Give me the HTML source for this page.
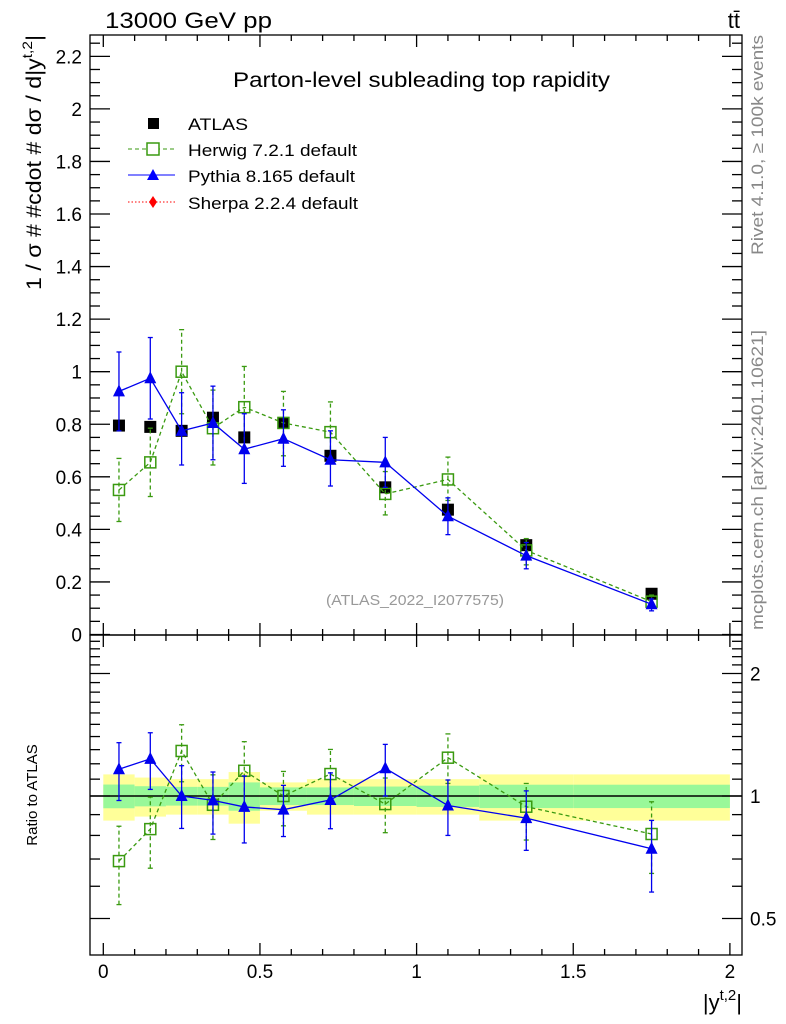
<!DOCTYPE html>
<html><head><meta charset="utf-8"><style>
html,body{margin:0;padding:0;background:#fff;}
svg{display:block;font-family:"Liberation Sans",sans-serif;}
</style></head><body>
<svg id="chart" width="786" height="1024" viewBox="0 0 786 1024" xmlns="http://www.w3.org/2000/svg">
<text x="105" y="28" font-size="22" textLength="167" lengthAdjust="spacingAndGlyphs">13000 GeV pp</text>
<text x="740" y="28" font-size="22" text-anchor="end">tt̄</text>
<text x="233" y="87" font-size="21" textLength="377" lengthAdjust="spacingAndGlyphs">Parton-level subleading top rapidity</text>
<text x="326" y="605" font-size="15" fill="#999" textLength="178" lengthAdjust="spacingAndGlyphs">(ATLAS_2022_I2077575)</text>
<text transform="translate(763,255) rotate(-90)" font-size="17" fill="#888" textLength="220" lengthAdjust="spacingAndGlyphs">Rivet 4.1.0, ≥ 100k events</text>
<text transform="translate(763,630) rotate(-90)" font-size="17" fill="#888" textLength="300" lengthAdjust="spacingAndGlyphs">mcplots.cern.ch [arXiv:2401.10621]</text>
<text transform="translate(41,290) rotate(-90)" font-size="21" textLength="255" lengthAdjust="spacingAndGlyphs">1 / σ # #cdot # dσ / d|y<tspan font-size="14" dy="-9">t,2</tspan><tspan dy="9">|</tspan></text>
<text transform="translate(37,795) rotate(-90)" font-size="15" text-anchor="middle">Ratio to ATLAS</text>
<text x="742" y="1010" font-size="22" text-anchor="end">|y<tspan font-size="15" dy="-10">t,2</tspan><tspan dy="10">|</tspan></text>
<g id="legend">
<g><rect x="148" y="118" width="11" height="11" fill="#000"/><text x="188" y="130" font-size="17" textLength="60" lengthAdjust="spacingAndGlyphs">ATLAS</text></g>
<g><line x1="128" y1="149" x2="175" y2="149" stroke="#3a9a10" stroke-dasharray="4,3"/><rect x="147" y="143" width="12" height="12" fill="#fff" stroke="#3a9a10" stroke-width="1.5"/><text x="188" y="156" font-size="17" textLength="169" lengthAdjust="spacingAndGlyphs">Herwig 7.2.1 default</text></g>
<g><line x1="128" y1="175" x2="175" y2="175" stroke="#00f"/><polygon points="153,169 147,180 159,180" fill="#00f"/><text x="188" y="182" font-size="17" textLength="167" lengthAdjust="spacingAndGlyphs">Pythia 8.165 default</text></g>
<g><line x1="128" y1="202" x2="175" y2="202" stroke="#f00" stroke-dasharray="1.5,2"/><polygon points="153,196 157,202 153,208 149,202" fill="#f00"/><text x="188" y="209" font-size="17" textLength="170" lengthAdjust="spacingAndGlyphs">Sherpa 2.2.4 default</text></g>
</g>
</svg>
<script>
const binEdges=[0,0.1,0.2,0.3,0.4,0.5,0.65,0.8,1.0,1.2,1.5,2.0];
const xCenters=[0.05,0.15,0.25,0.35,0.45,0.575,0.725,0.9,1.1,1.35,1.75];
const atlasVals=[0.795,0.79,0.775,0.825,0.75,0.805,0.68,0.56,0.475,0.34,0.155];
const atlasTotErr=[0.13,0.11,0.10,0.10,0.145,0.08,0.10,0.10,0.10,0.13,0.13];
const atlasStatErr=[0.067,0.057,0.053,0.053,0.08,0.05,0.05,0.055,0.06,0.066,0.066];
const herwigVals=[0.55,0.655,1.0,0.785,0.865,0.805,0.77,0.535,0.59,0.32,0.125];
const herwigLo=[0.43,0.525,0.84,0.645,0.71,0.68,0.65,0.455,0.51,0.265,0.10];
const herwigHi=[0.67,0.785,1.16,0.93,1.02,0.925,0.885,0.62,0.675,0.365,0.15];
const pythiaVals=[0.925,0.975,0.775,0.805,0.705,0.745,0.665,0.655,0.45,0.30,0.115];
const pythiaLo=[0.775,0.82,0.645,0.665,0.575,0.64,0.565,0.56,0.38,0.25,0.09];
const pythiaHi=[1.075,1.13,0.92,0.945,0.84,0.855,0.775,0.75,0.52,0.35,0.135];
const mainTicks=["0","0.2","0.4","0.6","0.8","1","1.2","1.4","1.6","1.8","2","2.2"];
const ratioTicks=["0.5","1","2"];
const xTicks=["0","0.5","1","1.5","2"];

const NS="http://www.w3.org/2000/svg";
const svg=document.getElementById('chart');
const L=90,R=742,T1=35,B1=635,B2=955;
const X=v=>103.3+v*313.3;
const Y=v=>634.5-v*262.8;
const YR=v=>796-Math.log(v)*176.7;
function mk(tag,a,parent){const e=document.createElementNS(NS,tag);for(const k in a)e.setAttribute(k,a[k]);(parent||svg).appendChild(e);return e;}

const band=mk('g',{});


for(let i=0;i<xCenters.length;i++){
  const x1=X(binEdges[i]),x2=X(binEdges[i+1]);
  const y=mk('rect',{x:x1,y:YR(1+atlasTotErr[i]),width:x2-x1,height:YR(1-atlasTotErr[i])-YR(1+atlasTotErr[i]),fill:'#ffff99'},band);
  
  
  const g=mk('rect',{x:x1,y:YR(1+atlasStatErr[i]),width:x2-x1,height:YR(1-atlasStatErr[i])-YR(1+atlasStatErr[i]),fill:'#99f899'},band);
  
  
}
const unity=mk('line',{x1:L,x2:R,y1:YR(1),y2:YR(1),stroke:'#000','stroke-width':1.5});



const axes=mk('g',{stroke:'#000','stroke-width':1.3});


mk('rect',{x:L,y:T1,width:R-L,height:B1-T1,fill:'none'},axes);
mk('rect',{x:L,y:B1,width:R-L,height:B2-B1,fill:'none'},axes);
for(let v=0;v<=2.001;v+=0.1){
  const maj=Math.abs(v*2-Math.round(v*2))<1e-6, len=maj?12:6, x=X(v);
  for(const [top,bot] of [[T1,B1],[B1,B2]]){
    mk('line',{x1:x,x2:x,y1:top,y2:top+len},axes);
    mk('line',{x1:x,x2:x,y1:bot,y2:bot-len},axes);
  }
}
for(let v=0;v<=2.27;v+=0.05){
  const maj=Math.abs(v*5-Math.round(v*5))<1e-6,len=maj?20:10,y=Y(v);
  if(y<T1)continue;
  mk('line',{x1:L,x2:L+len,y1:y,y2:y},axes);
  mk('line',{x1:R,x2:R-len,y1:y,y2:y},axes);
}
for(let v=0.5;v<=2.45;v+=0.1){
  const maj=[0.5,1,2].some(m=>Math.abs(m-v)<1e-6),len=maj?20:10,y=YR(v);
  mk('line',{x1:L,x2:L+len,y1:y,y2:y},axes);
  mk('line',{x1:R,x2:R-len,y1:y,y2:y},axes);
}
mainTicks.forEach(t=>{const e=mk('text',{x:82,y:Y(parseFloat(t))+7,'font-size':19,'text-anchor':'end'});e.textContent=t;
});
ratioTicks.forEach(t=>{const e=mk('text',{x:750,y:YR(parseFloat(t))+7,'font-size':19});e.textContent=t;
});
xTicks.forEach(t=>{const e=mk('text',{x:X(parseFloat(t)),y:978,'font-size':19,'text-anchor':'middle'});e.textContent=t;
});

function series(name,vals,lo,hi,ref,color,dash,marker){
  for(const panel of ['main','ratio']){
    const g=mk('g',{});
    
    
    const fy=panel==='main'?(i,v)=>Y(v):(i,v)=>YR(v/ref[i]);
    const pts=vals.map((v,i)=>X(xCenters[i])+','+fy(i,v)).join(' ');
    mk('polyline',{points:pts,fill:'none',stroke:color,'stroke-width':1.3,'stroke-dasharray':dash},g);
    vals.forEach((v,i)=>{
      const x=X(xCenters[i]),y1=fy(i,lo[i]),y2=fy(i,hi[i]);
      mk('line',{x1:x,x2:x,y1:y1,y2:y2,stroke:color,'stroke-width':1.3,'stroke-dasharray':dash},g);
      mk('line',{x1:x-2.5,x2:x+2.5,y1:y1,y2:y1,stroke:color,'stroke-width':1.3},g);
      mk('line',{x1:x-2.5,x2:x+2.5,y1:y2,y2:y2,stroke:color,'stroke-width':1.3},g);
    });
    vals.forEach((v,i)=>{
      const x=X(xCenters[i]),y=fy(i,v);
      let m;
      if(marker==='sq') m=mk('rect',{x:x-5.5,y:y-5.5,width:11,height:11,fill:'#fff','fill-opacity':0,stroke:color,'stroke-width':1.5},g);
      else m=mk('polygon',{points:`${x},${y-7} ${x-6},${y+5} ${x+6},${y+5}`,fill:color},g);
      
      
    });
  }
}
const ag=mk('g',{});


atlasVals.forEach((v,i)=>{
  const x=X(xCenters[i]),y=Y(v);
  const m=mk('rect',{x:x-6,y:y-6,width:12,height:12,fill:'#000'},ag);
  
  
});
series('herwig',herwigVals,herwigLo,herwigHi,atlasVals,'#3a9a10','4,3','sq');
series('pythia',pythiaVals,pythiaLo,pythiaHi,atlasVals,'#0000ee','none','tri');
</script>
</body></html>
